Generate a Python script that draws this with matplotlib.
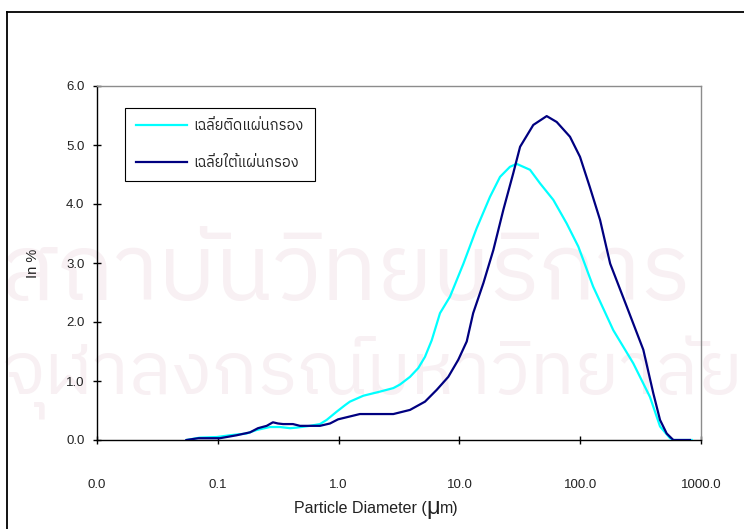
import matplotlib
matplotlib.use("Agg")
import matplotlib.pyplot as plt
from matplotlib import font_manager
from matplotlib.ft2font import FT2Font
from matplotlib.lines import Line2D

# Particle size distributions (diameter in micrometres, frequency in %)
upper_label = "เฉลี่ยติดแผ่นกรอง"
upper_d = [0.055, 0.071, 0.098, 0.126, 0.173, 0.210, 0.270, 0.327, 0.397, 0.450,
           0.579, 0.701, 0.796, 0.964, 1.13, 1.24, 1.60, 2.20, 2.84, 3.22,
           3.90, 4.57, 5.19, 5.90, 6.91, 8.36, 10.8, 13.9, 17.9, 21.7,
           26.2, 29.8, 38.4, 46.5, 59.9, 77.3, 96.4, 128, 188, 275,
           378, 458, 554, 590, 838]
upper_v = [0.00, 0.04, 0.05, 0.08, 0.11, 0.17, 0.22, 0.22, 0.20, 0.21,
           0.24, 0.27, 0.34, 0.48, 0.59, 0.65, 0.75, 0.82, 0.88, 0.94,
           1.07, 1.22, 1.41, 1.69, 2.15, 2.43, 2.99, 3.59, 4.12, 4.46,
           4.63, 4.68, 4.58, 4.35, 4.07, 3.67, 3.28, 2.60, 1.86, 1.30,
           0.73, 0.23, 0.03, 0.00, 0.00]

lower_label = "เฉลี่ยใต้แผ่นกรอง"
lower_d = [0.055, 0.069, 0.104, 0.143, 0.185, 0.215, 0.254, 0.286, 0.315, 0.347,
           0.419, 0.479, 0.701, 0.849, 0.989, 1.50, 2.84, 3.90, 5.19, 6.49,
           8.09, 9.79, 11.5, 13.0, 15.8, 19.1, 23.1, 27.9, 31.8, 40.9,
           52.8, 63.9, 82.3, 99.6, 120, 146, 177, 243, 333, 403,
           458, 520, 590, 811]
lower_v = [0.00, 0.03, 0.03, 0.08, 0.13, 0.20, 0.24, 0.30, 0.28, 0.27,
           0.27, 0.24, 0.24, 0.28, 0.35, 0.44, 0.44, 0.51, 0.65, 0.85,
           1.07, 1.36, 1.67, 2.15, 2.66, 3.22, 3.90, 4.52, 4.97, 5.34,
           5.49, 5.39, 5.14, 4.80, 4.29, 3.73, 2.99, 2.26, 1.53, 0.79,
           0.34, 0.11, 0.00, 0.00]

x_ticks = [0.01, 0.1, 1, 10, 100, 1000]
x_ticklabels = ["0.0", "0.1", "1.0", "10.0", "100.0", "1000.0"]
y_ticks = [0, 1, 2, 3, 4, 5, 6]
y_ticklabels = ["0.0", "1.0", "2.0", "3.0", "4.0", "5.0", "6.0"]

watermark_lines = ["สถาบันวิทยบริการ", "จุฬาลงกรณ์มหาวิทยาลัย"]


def find_thai_family():
    best = None
    for fe in font_manager.fontManager.ttflist:
        try:
            cmap = FT2Font(fe.fname).get_charmap()
        except Exception:
            continue
        if 0x0E40 in cmap and 0x0E01 in cmap:
            if best is None or "Sans" in fe.name:
                best = fe.name
                if "Sans" in fe.name:
                    break
    return best


thai = find_thai_family()
thai_fam = ([thai] if thai else []) + ["DejaVu Sans"]
plt.rcParams["font.family"] = ["Liberation Sans", "DejaVu Sans"]

W, H = 744, 529
fig = plt.figure(figsize=(W / 100, H / 100), dpi=100)
fig.patch.set_facecolor("white")


def fx(px):
    return px / W


def fy(py):
    return 1 - py / H


# faint background stamp, kept behind everything else
wm_color = "#f8f0f3"
for text, xpx, ypx, width in zip(watermark_lines, [0, 2], [300, 395], [690, 740]):
    t = fig.text(fx(xpx), fy(ypx), text, family=thai_fam, fontsize=80,
                 color=wm_color, ha="left", va="baseline", zorder=-10)
    fig.canvas.draw()
    ext = t.get_window_extent()
    t.set_fontsize(80 * width / ext.width)

# outer chart frame
fig.add_artist(Line2D([fx(7), 1.0], [fy(12), fy(12)], transform=fig.transFigure,
                      color="black", lw=1.3))
fig.add_artist(Line2D([fx(7), fx(7)], [0, fy(12)], transform=fig.transFigure,
                      color="black", lw=1.3))

ax = fig.add_axes([fx(97), fy(440), fx(701) - fx(97), fy(86) - fy(440)])
ax.patch.set_alpha(0)
ax.set_xscale("log")
ax.set_xlim(0.01, 1000)
ax.set_ylim(0, 6)

ax.plot(upper_d, upper_v, color="#00ffff", lw=1.6, label=upper_label, zorder=3)
ax.plot(lower_d, lower_v, color="#000080", lw=1.6, label=lower_label, zorder=4)

ax.set_xticks(x_ticks)
ax.set_xticklabels(x_ticklabels)
ax.xaxis.set_minor_locator(matplotlib.ticker.NullLocator())
ax.set_yticks(y_ticks)
ax.set_yticklabels(y_ticklabels)
ax.tick_params(axis="both", direction="inout", length=6, width=1, colors="black",
               labelsize=9.5, labelcolor="#222222")
ax.tick_params(axis="x", pad=25)
ax.tick_params(axis="y", pad=6)

ax.spines["left"].set_color("black")
ax.spines["bottom"].set_color("black")
ax.spines["top"].set_color("#8c8c8c")
ax.spines["right"].set_color("#8c8c8c")
for s in ax.spines.values():
    s.set_linewidth(1.0)

# axis titles
ax.set_ylabel("In %", fontsize=10.5, color="#222222")
ax.yaxis.set_label_coords((40 - 97) / 604, (440 - 263) / 354)

t1 = fig.text(fx(294), fy(513), "Particle Diameter (", fontsize=11.5,
              color="#222222", ha="left", va="baseline")
t2 = ax.annotate("μ", xy=(1, 0), xycoords=t1, fontsize=17, color="#222222",
                 ha="left", va="bottom", xytext=(0, -2), textcoords="offset points",
                 annotation_clip=False)
t3 = ax.annotate("m)", xy=(1, 0), xycoords=t1, fontsize=11.5, color="#222222",
                 ha="left", va="bottom", xytext=(9.3, 0), textcoords="offset points",
                 annotation_clip=False)

leg = ax.legend(loc="upper left", bbox_to_anchor=(fx(125), fy(108)),
                bbox_transform=fig.transFigure, borderaxespad=0, frameon=True,
                fancybox=False, edgecolor="black", framealpha=1,
                prop={"family": thai_fam, "size": 10.5}, handlelength=3.5,
                handletextpad=0.45, labelspacing=1.6, borderpad=0.75)
leg.get_frame().set_linewidth(0.8)
for txt in leg.get_texts():
    txt.set_color("#222222")

fig.savefig("out.png", dpi=100, facecolor="white")
